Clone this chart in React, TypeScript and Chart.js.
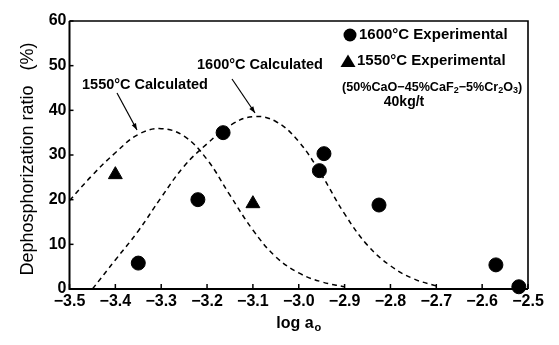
import React, { useEffect, useRef } from "react";
import { Chart, registerables } from "chart.js";

Chart.register(...registerables);

// ---- data ----
const calc1550X = [-3.5, -3.45, -3.4, -3.35, -3.3, -3.25, -3.2, -3.15, -3.1, -3.05, -3.0, -2.95, -2.9];
const calc1550Y = [19.8, 25.5, 30.5, 34.6, 35.9, 34.2, 29.0, 21.0, 13.2, 7.2, 3.6, 1.6, 0.5];

const calc1600X = [-3.45, -3.4, -3.35, -3.3, -3.25, -3.2, -3.15, -3.1, -3.05, -3.0, -2.95, -2.9, -2.85, -2.8, -2.75, -2.7];
const calc1600Y = [0.0, 6.5, 13.0, 20.5, 27.5, 32.5, 36.6, 38.6, 37.5, 33.0, 25.5, 16.8, 9.8, 5.2, 2.3, 0.7];

const exp1600X = [-3.35, -3.22, -3.165, -2.945, -2.955, -2.825, -2.57, -2.52];
const exp1600Y = [5.8, 20.0, 35.0, 30.3, 26.5, 18.8, 5.4, 0.5];

const exp1550X = [-3.4, -3.1];
const exp1550Y = [25.6, 19.1];

const xMin = -3.5;
const xMax = -2.5;
const xStep = 0.1;
const yMin = 0;
const yMax = 60;
const yStep = 10;

const yTitle = "Dephosphorization ratio   (%)";
const legend1600 = "1600\u00B0C Experimental";
const legend1550 = "1550\u00B0C Experimental";
const label1550Calc = "1550\u00B0C Calculated";
const label1600Calc = "1600\u00B0C Calculated";
const slagParts: [string, boolean][] = [
  ["(50%CaO\u221245%CaF", false],
  ["2", true],
  ["\u22125%Cr", false],
  ["2", true],
  ["O", false],
  ["3", true],
  [")", false],
];
const slagAmount = "40kg/t";

const FONT = '"Liberation Sans", Arial, Helvetica, sans-serif';

const zip = (xs: number[], ys: number[]) => xs.map((x, i) => ({ x, y: ys[i] }));

function arrow(ctx: CanvasRenderingContext2D, x1: number, y1: number, x2: number, y2: number) {
  ctx.beginPath();
  ctx.moveTo(x1, y1);
  ctx.lineTo(x2, y2);
  ctx.stroke();
  const a = Math.atan2(y2 - y1, x2 - x1);
  const L = 7;
  const W = 0.35;
  ctx.beginPath();
  ctx.moveTo(x2, y2);
  ctx.lineTo(x2 - L * Math.cos(a - W), y2 - L * Math.sin(a - W));
  ctx.lineTo(x2 - L * Math.cos(a + W), y2 - L * Math.sin(a + W));
  ctx.closePath();
  ctx.fill();
}

const decorPlugin = {
  id: "decor",
  afterDatasetsDraw(chart: any) {
    const { ctx, chartArea: ca, scales } = chart;
    const xs = scales.x;
    const ys = scales.y;
    ctx.save();
    ctx.strokeStyle = "#000";
    ctx.fillStyle = "#000";
    // frame
    ctx.lineWidth = 2;
    ctx.beginPath();
    ctx.moveTo(ca.left, ca.top);
    ctx.lineTo(ca.left, ca.bottom);
    ctx.lineTo(ca.right, ca.bottom);
    ctx.stroke();
    ctx.lineWidth = 1.6;
    ctx.beginPath();
    ctx.moveTo(ca.left, ca.top);
    ctx.lineTo(ca.right, ca.top);
    ctx.lineTo(ca.right, ca.bottom);
    ctx.stroke();
    // inward ticks
    ctx.lineWidth = 1.5;
    xs.ticks.forEach((t: any) => {
      const px = xs.getPixelForValue(t.value);
      ctx.beginPath();
      ctx.moveTo(px, ca.bottom);
      ctx.lineTo(px, ca.bottom - 5);
      ctx.stroke();
    });
    ys.ticks.forEach((t: any) => {
      const py = ys.getPixelForValue(t.value);
      ctx.beginPath();
      ctx.moveTo(ca.left, py);
      ctx.lineTo(ca.left + 4, py);
      ctx.stroke();
    });

    // y title
    ctx.save();
    ctx.translate(28, (ca.top + ca.bottom) / 2 + 4);
    ctx.rotate(-Math.PI / 2);
    ctx.font = `18px ${FONT}`;
    ctx.textAlign = "center";
    ctx.textBaseline = "middle";
    ctx.fillText(yTitle, 0, 0);
    ctx.restore();

    // x title "log a_o"
    ctx.font = `bold 16px ${FONT}`;
    ctx.textBaseline = "alphabetic";
    ctx.textAlign = "left";
    const main = "log a";
    const wMain = ctx.measureText(main).width;
    ctx.font = `bold 11px ${FONT}`;
    const wSub = ctx.measureText("o").width;
    const cx = (ca.left + ca.right) / 2;
    const startX = cx - (wMain + wSub + 1) / 2;
    ctx.font = `bold 16px ${FONT}`;
    ctx.fillText(main, startX, 328);
    ctx.font = `bold 11px ${FONT}`;
    ctx.fillText("o", startX + wMain + 1, 331);

    // legend entries
    ctx.font = `bold 15px ${FONT}`;
    ctx.textBaseline = "middle";
    ctx.beginPath();
    ctx.arc(350, 35, 6.5, 0, Math.PI * 2);
    ctx.fill();
    ctx.fillText(legend1600, 359, 35);
    ctx.beginPath();
    ctx.moveTo(348, 54.5);
    ctx.lineTo(355.5, 67);
    ctx.lineTo(340.5, 67);
    ctx.closePath();
    ctx.fill();
    ctx.fillText(legend1550, 357, 61);

    // slag composition
    let sx = 342;
    slagParts.forEach(([txt, sub]) => {
      ctx.font = sub ? `bold 9px ${FONT}` : `bold 12.6px ${FONT}`;
      ctx.fillText(txt, sx, sub ? 91 : 88);
      sx += ctx.measureText(txt).width;
    });
    ctx.font = `bold 14px ${FONT}`;
    ctx.textAlign = "center";
    ctx.fillText(slagAmount, 404, 102);

    // calculated labels and arrows
    ctx.textAlign = "left";
    ctx.font = `bold 14.5px ${FONT}`;
    ctx.fillText(label1550Calc, 82, 85);
    ctx.fillText(label1600Calc, 197, 65);
    ctx.lineWidth = 1.2;
    arrow(ctx, 117, 93, 137, 130);
    arrow(ctx, 232, 79, 255, 113);
    ctx.restore();
  },
};

export default function App() {
  const ref = useRef<HTMLCanvasElement | null>(null);
  useEffect(() => {
    if (!ref.current) return;
    const fmt = (v: number) => {
      const s = Math.abs(v).toFixed(1);
      return v < 0 ? "\u2212" + s : s;
    };
    const chart = new Chart(ref.current, {
      type: "scatter",
      data: {
        datasets: [
          {
            type: "line",
            label: label1550Calc,
            data: zip(calc1550X, calc1550Y),
            borderColor: "#000",
            borderWidth: 1.5,
            borderDash: [5, 4],
            pointRadius: 0,
            fill: false,
            tension: 0.4,
          },
          {
            type: "line",
            label: label1600Calc,
            data: zip(calc1600X, calc1600Y),
            borderColor: "#000",
            borderWidth: 1.5,
            borderDash: [5, 4],
            pointRadius: 0,
            fill: false,
            tension: 0.4,
          },
          {
            label: legend1600,
            data: zip(exp1600X, exp1600Y),
            pointStyle: "circle",
            pointRadius: 7,
            backgroundColor: "#000",
            borderColor: "#000",
            clip: false as any,
          },
          {
            label: legend1550,
            data: zip(exp1550X, exp1550Y),
            pointStyle: "triangle",
            pointRadius: 8,
            backgroundColor: "#000",
            borderColor: "#000",
          },
        ],
      } as any,
      options: {
        animation: false,
        responsive: false,
        maintainAspectRatio: false,
        layout: { padding: { left: 0, right: 31, top: 21, bottom: 0 } },
        plugins: {
          legend: { display: false },
          tooltip: { enabled: false },
        },
        scales: {
          x: {
            type: "linear",
            min: xMin,
            max: xMax,
            ticks: {
              stepSize: xStep,
              color: "#000",
              font: { family: FONT, size: 16, weight: "bold" },
              padding: 3,
              maxRotation: 0,
              autoSkip: false,
              callback: (v: any) => fmt(Number(v)),
            },
            grid: { display: false, drawTicks: false },
            border: { display: false },
            afterFit: (s: any) => {
              s.height = 56;
            },
          },
          y: {
            min: yMin,
            max: yMax,
            ticks: {
              stepSize: yStep,
              color: "#000",
              font: { family: FONT, size: 16, weight: "bold" },
              padding: 3,
            },
            grid: { display: false, drawTicks: false },
            border: { display: false },
            afterFit: (s: any) => {
              s.width = 69.5;
            },
          },
        },
      } as any,
      plugins: [decorPlugin],
    });
    return () => chart.destroy();
  }, []);
  return (
    <div style={{ position: "absolute", left: 0, top: 0, width: 559, height: 345, background: "#fff" }}>
      <canvas ref={ref} width={559} height={345} style={{ display: "block", width: 559, height: 345 }} />
    </div>
  );
}
